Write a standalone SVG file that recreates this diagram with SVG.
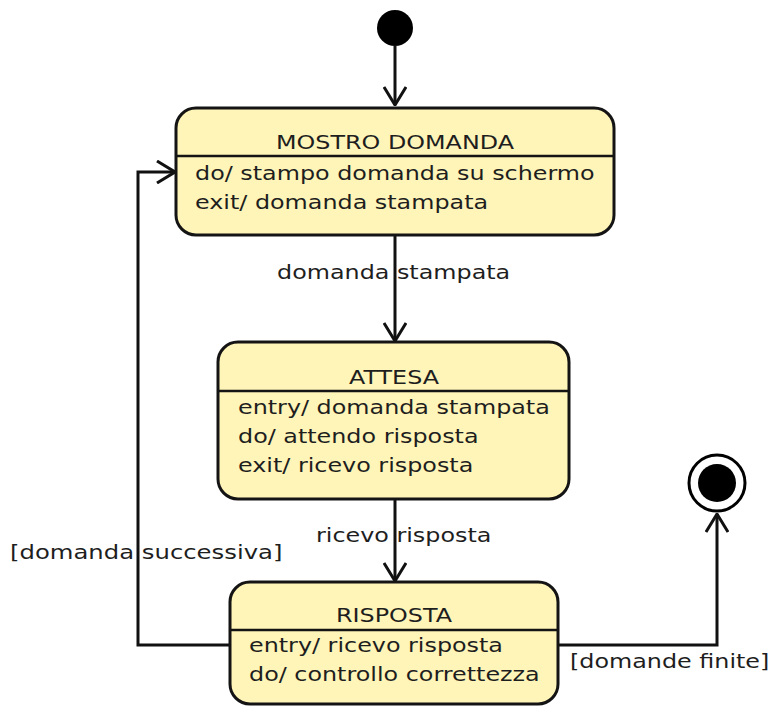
<svg xmlns="http://www.w3.org/2000/svg" width="774" height="706" viewBox="0 0 774 706">
  <style>
    .state { fill: #fff5b8; stroke: #141414; stroke-width: 3; }
    .div { stroke: #141414; stroke-width: 2.5; }
    .t { font-family: "DejaVu Sans", "Liberation Sans", sans-serif; font-size: 19px; fill: #1e1e1e; }
    .title { text-anchor: middle; }
    .edge { fill: none; stroke: #111; stroke-width: 3; }
  </style>
  <defs>
    <marker id="open" viewBox="0 0 20 24" refX="19" refY="12" markerWidth="20" markerHeight="24" markerUnits="userSpaceOnUse" orient="auto">
      <path d="M1,1 L19,12 L1,23" fill="none" stroke="#111" stroke-width="3"/>
    </marker>
  </defs>
  <rect width="774" height="706" fill="#ffffff"/>

  <!-- text is set in a widened face: each line is placed with translate() and stretched 1.255x horizontally -->
  <g id="connectors">
    <path class="edge" d="M395,46 L395,105" marker-end="url(#open)"/>
    <path class="edge" d="M395,236 L395,341" marker-end="url(#open)"/>
    <path class="edge" d="M395,500 L395,581" marker-end="url(#open)"/>
    <path class="edge" d="M230,645 L138,645 L138,172 L175,172" marker-end="url(#open)"/>
    <path class="edge" d="M558,645 L717,645 L717,514" marker-end="url(#open)"/>
    <text class="t" transform="translate(277,279) scale(1.255,1)">domanda stampata</text>
    <text class="t" transform="translate(316,542) scale(1.255,1)">ricevo risposta</text>
    <text class="t" transform="translate(10,559) scale(1.28,1)">[domanda successiva]</text>
    <text class="t" transform="translate(570,668) scale(1.255,1)">[domande finite]</text>
  </g>

  <g id="initial">
    <circle cx="395" cy="28" r="18" fill="#000"/>
  </g>

  <g id="mostro-domanda">
    <rect class="state" x="176" y="108" width="438" height="127" rx="20"/>
    <line class="div" x1="176" y1="156" x2="614" y2="156"/>
    <text class="t title" transform="translate(395,149) scale(1.255,1)">MOSTRO DOMANDA</text>
    <text class="t" transform="translate(195,180) scale(1.255,1)">do/ stampo domanda su schermo</text>
    <text class="t" transform="translate(195,209) scale(1.255,1)">exit/ domanda stampata</text>
  </g>

  <g id="attesa">
    <rect class="state" x="218" y="342" width="351" height="157" rx="20"/>
    <line class="div" x1="218" y1="391" x2="569" y2="391"/>
    <text class="t title" transform="translate(394,384) scale(1.255,1)">ATTESA</text>
    <text class="t" transform="translate(238,414) scale(1.255,1)">entry/ domanda stampata</text>
    <text class="t" transform="translate(238,443) scale(1.255,1)">do/ attendo risposta</text>
    <text class="t" transform="translate(238,472) scale(1.255,1)">exit/ ricevo risposta</text>
  </g>

  <g id="risposta">
    <rect class="state" x="230" y="582" width="328" height="122" rx="20"/>
    <line class="div" x1="230" y1="630" x2="558" y2="630"/>
    <text class="t title" transform="translate(394,622) scale(1.255,1)">RISPOSTA</text>
    <text class="t" transform="translate(249,652) scale(1.255,1)">entry/ ricevo risposta</text>
    <text class="t" transform="translate(249,681) scale(1.255,1)">do/ controllo correttezza</text>
  </g>

  <g id="final">
    <circle cx="717" cy="483" r="28" fill="#fff" stroke="#000" stroke-width="3"/>
    <circle cx="717" cy="483" r="19" fill="#000"/>
  </g>
</svg>
